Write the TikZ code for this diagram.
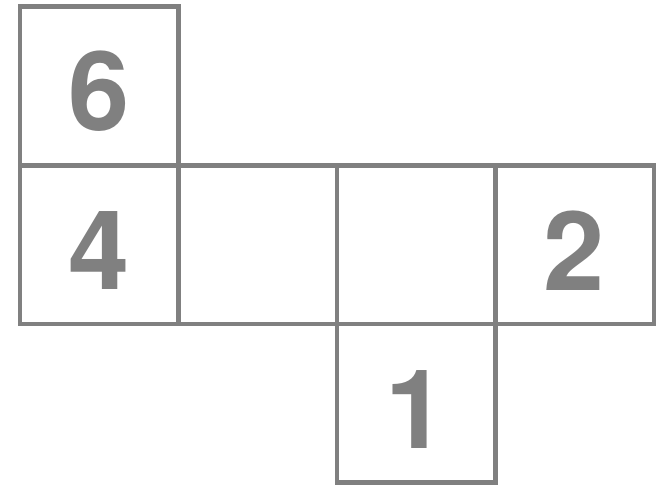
\documentclass[tikz,border=0pt]{standalone}
\usepackage{fontspec}
\setmainfont{TeX Gyre Heros}
\definecolor{netgray}{HTML}{808080}
\begin{document}
\begin{tikzpicture}[x=1pt,y=-1pt,
  face/.style={draw=netgray,line width=4.5pt,minimum width=158.5pt,minimum height=158.5pt,inner sep=0pt,outer sep=0pt},
  digit/.style={text=netgray,font=\fontsize{110}{110}\selectfont\bfseries,inner sep=0pt}]
\useasboundingbox (0,0) rectangle (660,485);
\node[face] (f6) at (99,85.5) {};
\node[face] (f4) at (99,244.5) {};
\node[face] (fa) at (257.5,244.5) {};
\node[face] (fb) at (416,244.5) {};
\node[face] (f2) at (574.5,244.5) {};
\node[face] (f1) at (416,403) {};
\node[digit] (d6) at ([yshift=-6pt]f6.center) {6};
\node[digit] (d4) at ([yshift=-6pt]f4.center) {4};
\node[digit] (d2) at ([yshift=-6pt]f2.center) {2};
\node[digit] (d1) at ([yshift=-6pt]f1.center) {1};
\end{tikzpicture}
\end{document}
